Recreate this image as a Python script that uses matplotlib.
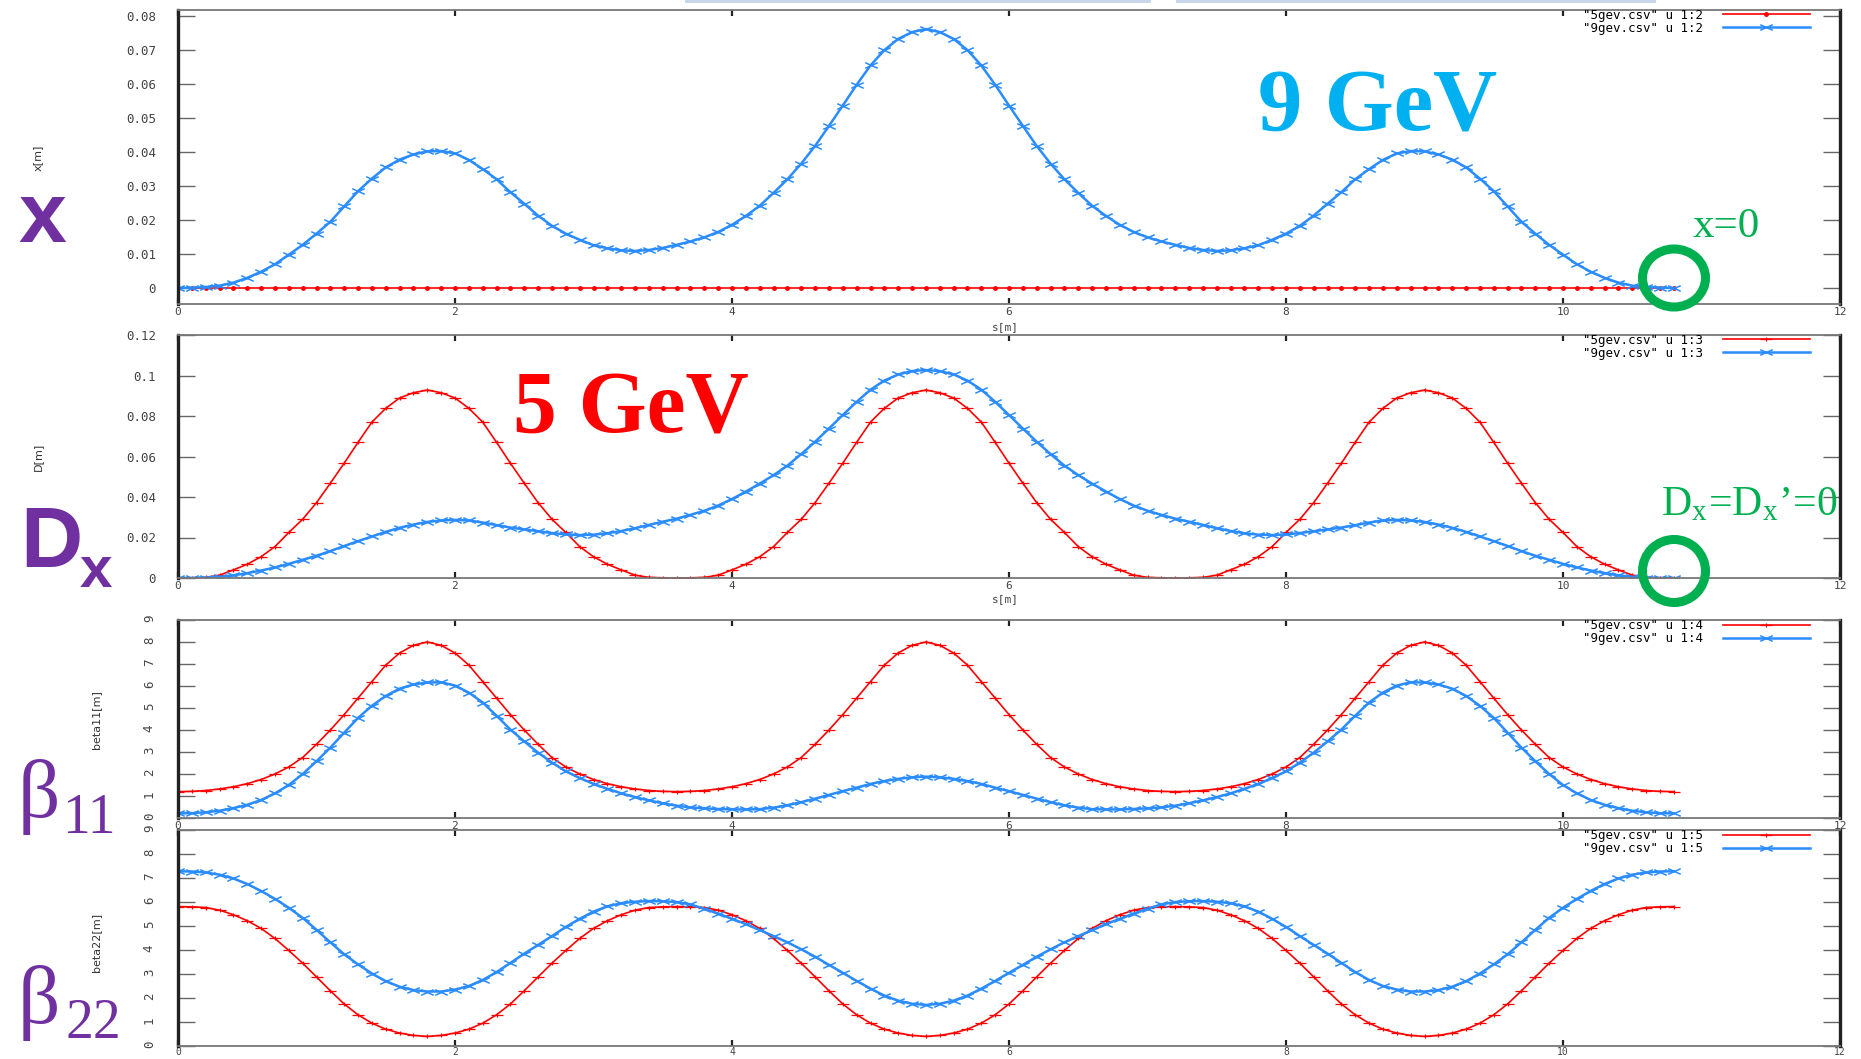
import numpy as np
import matplotlib
matplotlib.use("Agg")
import matplotlib.pyplot as plt
from matplotlib.path import Path
from matplotlib.patches import Ellipse, Rectangle
from matplotlib.ticker import FuncFormatter

W, H = 1861, 1059

# s [m], sampled every 0.1 m along the lattice
s = np.linspace(0, 10.8, 109)

# x [m]
x5 = [0.0] * 109
x9 = [0.0000, 0.0001, 0.0003, 0.0007, 0.0016, 0.0030, 0.0048, 0.0070, 0.0098, 0.0127,
      0.0160, 0.0195, 0.0240, 0.0285, 0.0322, 0.0355, 0.0378, 0.0393, 0.0402, 0.0403,
      0.0396, 0.0377, 0.0350, 0.0320, 0.0282, 0.0248, 0.0213, 0.0183, 0.0160, 0.0142,
      0.0126, 0.0117, 0.0111, 0.0109, 0.0112, 0.0118, 0.0127, 0.0137, 0.0149, 0.0165,
      0.0186, 0.0212, 0.0242, 0.0280, 0.0320, 0.0366, 0.0418, 0.0477, 0.0537, 0.0598,
      0.0655, 0.0700, 0.0733, 0.0753, 0.0762,
      0.0753, 0.0733, 0.0700, 0.0655, 0.0598, 0.0537, 0.0477, 0.0418, 0.0366, 0.0320,
      0.0280, 0.0242, 0.0212, 0.0186, 0.0165, 0.0149, 0.0137, 0.0127, 0.0118, 0.0112,
      0.0109, 0.0111, 0.0117, 0.0126, 0.0142, 0.0160, 0.0183, 0.0213, 0.0248, 0.0282,
      0.0320, 0.0350, 0.0377, 0.0396, 0.0403, 0.0402, 0.0393, 0.0378, 0.0355, 0.0322,
      0.0285, 0.0240, 0.0195, 0.0160, 0.0127, 0.0098, 0.0070, 0.0048, 0.0030, 0.0016,
      0.0007, 0.0003, 0.0001, 0.0000]

# D [m]
dx5 = [0.0000,
       0.0001, 0.0003, 0.0014, 0.0040, 0.0068, 0.0105, 0.0155, 0.0225, 0.0290, 0.0372,
       0.0468, 0.0567, 0.0670, 0.0770, 0.0838, 0.0889, 0.0915, 0.0928, 0.0915, 0.0889,
       0.0838, 0.0770, 0.0670, 0.0567, 0.0468, 0.0372, 0.0290, 0.0225, 0.0155, 0.0105,
       0.0068, 0.0040, 0.0014, 0.0003, 0.0001, 0.0000,
       0.0001, 0.0003, 0.0014, 0.0040, 0.0068, 0.0105, 0.0155, 0.0225, 0.0290, 0.0372,
       0.0468, 0.0567, 0.0670, 0.0770, 0.0838, 0.0889, 0.0915, 0.0928, 0.0915, 0.0889,
       0.0838, 0.0770, 0.0670, 0.0567, 0.0468, 0.0372, 0.0290, 0.0225, 0.0155, 0.0105,
       0.0068, 0.0040, 0.0014, 0.0003, 0.0001, 0.0000,
       0.0001, 0.0003, 0.0014, 0.0040, 0.0068, 0.0105, 0.0155, 0.0225, 0.0290, 0.0372,
       0.0468, 0.0567, 0.0670, 0.0770, 0.0838, 0.0889, 0.0915, 0.0928, 0.0915, 0.0889,
       0.0838, 0.0770, 0.0670, 0.0567, 0.0468, 0.0372, 0.0290, 0.0225, 0.0155, 0.0105,
       0.0068, 0.0040, 0.0014, 0.0003, 0.0001, 0.0000]
dx9 = [0.0000, 0.0000, 0.0002, 0.0006, 0.0013, 0.0024, 0.0037, 0.0052, 0.0070, 0.0090,
       0.0110, 0.0133, 0.0158, 0.0182, 0.0205, 0.0228, 0.0248, 0.0264, 0.0277, 0.0284,
       0.0287, 0.0284, 0.0274, 0.0261, 0.0249, 0.0240, 0.0231, 0.0222, 0.0215, 0.0212,
       0.0214, 0.0221, 0.0232, 0.0246, 0.0262, 0.0278, 0.0293, 0.0312, 0.0332, 0.0358,
       0.0390, 0.0427, 0.0466, 0.0508, 0.0555, 0.0612, 0.0673, 0.0738, 0.0805, 0.0870,
       0.0930, 0.0975, 0.1005, 0.1022, 0.1027,
       0.1022, 0.1005, 0.0975, 0.0930, 0.0870, 0.0805, 0.0738, 0.0673, 0.0612, 0.0555,
       0.0508, 0.0466, 0.0427, 0.0390, 0.0358, 0.0332, 0.0312, 0.0293, 0.0278, 0.0262,
       0.0246, 0.0232, 0.0221, 0.0214, 0.0212, 0.0215, 0.0222, 0.0231, 0.0240, 0.0249,
       0.0261, 0.0274, 0.0284, 0.0287, 0.0284, 0.0277, 0.0264, 0.0248, 0.0228, 0.0205,
       0.0182, 0.0158, 0.0133, 0.0110, 0.0090, 0.0070, 0.0052, 0.0037, 0.0024, 0.0013,
       0.0006, 0.0002, 0.0000, 0.0000]

# beta11 [m]
b11_5 = [1.20,
         1.21, 1.25, 1.32, 1.42, 1.56, 1.75, 2.00, 2.32, 2.75, 3.35,
         4.00, 4.70, 5.45, 6.20, 6.95, 7.50, 7.85, 8.00, 7.85, 7.50,
         6.95, 6.20, 5.45, 4.70, 4.00, 3.35, 2.75, 2.32, 2.00, 1.75,
         1.56, 1.42, 1.32, 1.25, 1.21, 1.20,
         1.21, 1.25, 1.32, 1.42, 1.56, 1.75, 2.00, 2.32, 2.75, 3.35,
         4.00, 4.70, 5.45, 6.20, 6.95, 7.50, 7.85, 8.00, 7.85, 7.50,
         6.95, 6.20, 5.45, 4.70, 4.00, 3.35, 2.75, 2.32, 2.00, 1.75,
         1.56, 1.42, 1.32, 1.25, 1.21, 1.20,
         1.21, 1.25, 1.32, 1.42, 1.56, 1.75, 2.00, 2.32, 2.75, 3.35,
         4.00, 4.70, 5.45, 6.20, 6.95, 7.50, 7.85, 8.00, 7.85, 7.50,
         6.95, 6.20, 5.45, 4.70, 4.00, 3.35, 2.75, 2.32, 2.00, 1.75,
         1.56, 1.42, 1.32, 1.25, 1.21, 1.20]
b11_9 = [0.21, 0.22, 0.26, 0.33, 0.45, 0.60, 0.82, 1.12, 1.50, 2.00,
         2.58, 3.20, 3.88, 4.55, 5.10, 5.55, 5.88, 6.07, 6.16, 6.17,
         6.02, 5.70, 5.25, 4.65, 4.02, 3.48, 2.97, 2.52, 2.12, 1.82,
         1.55, 1.33, 1.12, 0.95, 0.80, 0.67, 0.56, 0.48, 0.44, 0.41,
         0.39, 0.39, 0.40, 0.47, 0.58, 0.72, 0.88, 1.05, 1.22, 1.38,
         1.55, 1.68, 1.78, 1.85, 1.88,
         1.85, 1.78, 1.68, 1.55, 1.38, 1.22, 1.05, 0.88, 0.72, 0.58,
         0.47, 0.40, 0.39, 0.39, 0.41, 0.44, 0.48, 0.56, 0.67, 0.80,
         0.95, 1.12, 1.33, 1.55, 1.82, 2.12, 2.52, 2.97, 3.48, 4.02,
         4.65, 5.25, 5.70, 6.02, 6.17, 6.16, 6.07, 5.88, 5.55, 5.10,
         4.55, 3.88, 3.20, 2.58, 2.00, 1.50, 1.12, 0.82, 0.60, 0.45,
         0.33, 0.26, 0.22, 0.21]

# beta22 [m]
b22_5 = [5.81,
         5.80, 5.77, 5.66, 5.47, 5.22, 4.90, 4.48, 3.98, 3.45, 2.88,
         2.30, 1.75, 1.30, 0.95, 0.70, 0.54, 0.44, 0.40, 0.44, 0.54,
         0.70, 0.95, 1.30, 1.75, 2.30, 2.88, 3.45, 3.98, 4.48, 4.90,
         5.22, 5.47, 5.66, 5.77, 5.80, 5.81,
         5.80, 5.77, 5.66, 5.47, 5.22, 4.90, 4.48, 3.98, 3.45, 2.88,
         2.30, 1.75, 1.30, 0.95, 0.70, 0.54, 0.44, 0.40, 0.44, 0.54,
         0.70, 0.95, 1.30, 1.75, 2.30, 2.88, 3.45, 3.98, 4.48, 4.90,
         5.22, 5.47, 5.66, 5.77, 5.80, 5.81,
         5.80, 5.77, 5.66, 5.47, 5.22, 4.90, 4.48, 3.98, 3.45, 2.88,
         2.30, 1.75, 1.30, 0.95, 0.70, 0.54, 0.44, 0.40, 0.44, 0.54,
         0.70, 0.95, 1.30, 1.75, 2.30, 2.88, 3.45, 3.98, 4.48, 4.90,
         5.22, 5.47, 5.66, 5.77, 5.80, 5.81]
b22_9 = [7.28, 7.27, 7.23, 7.14, 6.98, 6.75, 6.46, 6.13, 5.76, 5.34,
         4.84, 4.32, 3.82, 3.40, 3.02, 2.70, 2.47, 2.33, 2.27, 2.27,
         2.35, 2.50, 2.75, 3.08, 3.46, 3.85, 4.21, 4.58, 4.96, 5.30,
         5.60, 5.82, 5.95, 6.01, 6.04, 6.03, 6.00, 5.90, 5.72, 5.52,
         5.30, 5.08, 4.83, 4.58, 4.32, 4.03, 3.72, 3.38, 3.05, 2.71,
         2.39, 2.10, 1.89, 1.76, 1.71,
         1.76, 1.89, 2.10, 2.39, 2.71, 3.05, 3.38, 3.72, 4.03, 4.32,
         4.58, 4.83, 5.08, 5.30, 5.52, 5.72, 5.90, 6.00, 6.03, 6.04,
         6.01, 5.95, 5.82, 5.60, 5.30, 4.96, 4.58, 4.21, 3.85, 3.46,
         3.08, 2.75, 2.50, 2.35, 2.27, 2.27, 2.33, 2.47, 2.70, 3.02,
         3.40, 3.82, 4.32, 4.84, 5.34, 5.76, 6.13, 6.46, 6.75, 6.98,
         7.14, 7.23, 7.27, 7.28]

red_series = [x5, dx5, b11_5, b22_5]
blue_series = [x9, dx9, b11_9, b22_9]
columns = ["1:2", "1:3", "1:4", "1:5"]
x_ticks = [0, 2, 4, 6, 8, 10, 12]
y_ticks = [[0, 0.01, 0.02, 0.03, 0.04, 0.05, 0.06, 0.07, 0.08],
           [0, 0.02, 0.04, 0.06, 0.08, 0.1, 0.12],
           list(range(10)),
           list(range(10))]

plt.rcParams['font.family'] = 'DejaVu Sans Mono'
plt.rcParams['mathtext.fontset'] = 'stix'

fig = plt.figure(figsize=(W / 100, H / 100), dpi=100)

def fx(x):
    return x / W

def fy(y):
    return 1 - y / H

# panel boxes in pixels: left, top, right, bottom
boxes = [(178, 10, 1840, 304), (178, 335, 1840, 578),
         (178, 620, 1840, 818), (178, 830, 1840, 1046)]
ylims = [(-0.0047, 0.0818), (0, 0.12), (0, 9), (0, 9)]

# squashed gnuplot point types
xmark = Path([(-1, -0.45), (1, 0.45), (-1, 0.45), (1, -0.45)],
             [Path.MOVETO, Path.LINETO, Path.MOVETO, Path.LINETO])
pmark = Path([(-1, 0), (1, 0), (0, -0.35), (0, 0.35)],
             [Path.MOVETO, Path.LINETO, Path.MOVETO, Path.LINETO])

red = '#ff0000'
blue = '#2a8cff'

for i, (l, t, r, b) in enumerate(boxes):
    ax = fig.add_axes([fx(l), fy(b), (r - l) / W, (b - t) / H])
    if i == 0:
        ax.plot(s, red_series[i], color=red, lw=1.2, marker='o', ms=2.5,
                label='"5gev.csv" u %s' % columns[i])
    else:
        ax.plot(s, red_series[i], color=red, lw=1.2, marker=pmark, ms=8, mew=0.9,
                label='"5gev.csv" u %s' % columns[i])
    ax.plot(s, blue_series[i], color=blue, lw=1.8, marker=xmark, ms=9, mew=1.1,
            label='"9gev.csv" u %s' % columns[i])

    ax.set_xlim(0, 12)
    ax.set_ylim(*ylims[i])
    ax.set_xticks(x_ticks)
    ax.set_yticks(y_ticks[i])
    ax.yaxis.set_major_formatter(FuncFormatter(lambda v, p: '%g' % round(v, 4)))

    for side in ['left', 'right']:
        ax.spines[side].set_linewidth(2.4)
        ax.spines[side].set_color('#222222')
    for side in ['top', 'bottom']:
        ax.spines[side].set_linewidth(1.3)
        ax.spines[side].set_color('#777777')

    ax.tick_params(axis='y', direction='in', length=12, width=1, color='#666666',
                   right=True, labelsize=9, pad=16, labelcolor='#444444')
    ax.tick_params(axis='x', direction='in', length=4, width=1.6, color='#222222',
                   top=True, labelsize=8, pad=2, labelcolor='#444444')
    if i >= 2:
        ax.tick_params(axis='y', labelrotation=90)
    if i == 3:
        ax.tick_params(axis='x', labelsize=7, pad=0.5)

    ax.legend(loc='upper right', bbox_to_anchor=(0.982, 1.005), frameon=False,
              fontsize=9, markerfirst=False, handlelength=7, labelspacing=0.0,
              borderaxespad=0, borderpad=0, handletextpad=1.6, numpoints=1)

# axis titles as in the gnuplot output
fig.text(fx(38), fy(158), 'x[m]', rotation=90, fontsize=8, ha='center', va='center',
         family='DejaVu Sans', color='#333333')
fig.text(fx(38), fy(457), 'D[m]', rotation=90, fontsize=8, ha='center', va='center',
         family='DejaVu Sans', color='#333333')
fig.text(fx(96), fy(720), 'beta11[m]', rotation=90, fontsize=8, ha='center', va='center',
         family='DejaVu Sans', color='#333333')
fig.text(fx(96), fy(942), 'beta22[m]', rotation=90, fontsize=8, ha='center', va='center',
         family='DejaVu Sans', color='#333333')
fig.text(fx(1005), fy(327), 's[m]', fontsize=8, ha='center', va='center', color='#444444')
fig.text(fx(1005), fy(599), 's[m]', fontsize=8, ha='center', va='center', color='#444444')

# slide annotations
purple = '#7030A0'
sans = ['Liberation Sans Narrow', 'Liberation Sans']
fig.text(fx(18), fy(242), 'x', color=purple, fontsize=62, family=sans,
         fontweight='bold', va='baseline')
fig.text(fx(20), fy(567), 'D', color=purple, fontsize=62, family=sans,
         fontweight='bold', va='baseline')
fig.text(fx(80), fy(587), 'x', color=purple, fontsize=42, family=sans,
         fontweight='bold', va='baseline')
fig.text(fx(18), fy(817), 'β', color=purple, fontsize=60, family='Liberation Serif',
         va='baseline')
fig.text(fx(62), fy(833), '11', color=purple, fontsize=40, family='Liberation Serif',
         va='baseline')
fig.text(fx(18), fy(1023), 'β', color=purple, fontsize=60, family='Liberation Serif',
         va='baseline')
fig.text(fx(66), fy(1038), '22', color=purple, fontsize=40, family='Liberation Serif',
         va='baseline')

fig.text(fx(513), fy(432), '5 GeV', color='#ff0000', fontsize=63,
         family='Liberation Serif', fontweight='bold', va='baseline')
fig.text(fx(1258), fy(130), '9 GeV', color='#00B0F0', fontsize=64,
         family='Liberation Serif', fontweight='bold', va='baseline')

green = '#00B050'
fig.text(fx(1693), fy(237), 'x=0', color=green, fontsize=31,
         family='Liberation Serif', va='baseline')
fig.text(fx(1661), fy(515), 'D$_\\mathregular{x}$=D$_\\mathregular{x}$\u2019=0', color=green,
         fontsize=30, family='Liberation Serif', va='baseline')
fig.add_artist(Ellipse((fx(1674), fy(278)), 63 / W, 58 / H, transform=fig.transFigure,
                       fill=False, ec=green, lw=6.5))
fig.add_artist(Ellipse((fx(1674), fy(571)), 63 / W, 63 / H, transform=fig.transFigure,
                       fill=False, ec=green, lw=6.5))

# faint strip at the very top of the slide
fig.add_artist(Rectangle((fx(685), fy(3)), (1151 - 685) / W, 3 / H,
                         transform=fig.transFigure, color='#c8d6ea', lw=0))
fig.add_artist(Rectangle((fx(1176), fy(3)), (1656 - 1176) / W, 3 / H,
                         transform=fig.transFigure, color='#c8d6ea', lw=0))

fig.savefig('out.png', dpi=100)
